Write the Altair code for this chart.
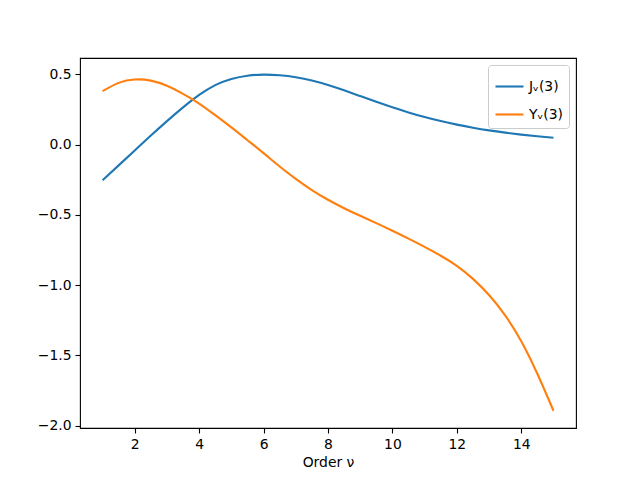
import altair as alt
import pandas as pd

nu = [1, 1.5, 2, 2.5, 3, 3.5, 4, 4.5, 5, 5.5, 6, 6.5, 7, 7.5, 8, 8.5, 9, 9.5,
      10, 10.5, 11, 11.5, 12, 12.5, 13, 13.5, 14, 14.5, 15]
j_vals = [-0.253, -0.147, -0.041, 0.065, 0.168, 0.266, 0.354, 0.424, 0.468, 0.491,
          0.499, 0.494, 0.48, 0.457, 0.425, 0.387, 0.346, 0.305, 0.266, 0.23,
          0.197, 0.168, 0.143, 0.121, 0.102, 0.086, 0.072, 0.06, 0.049]
y_vals = [0.381, 0.44, 0.464, 0.456, 0.419, 0.362, 0.293, 0.21, 0.123, 0.032,
          -0.06, -0.155, -0.243, -0.323, -0.392, -0.452, -0.506, -0.558, -0.612,
          -0.668, -0.727, -0.79, -0.862, -0.955, -1.07, -1.215, -1.398, -1.63, -1.893]
series_names = ["Jᵥ(3)", "Yᵥ(3)"]
colors = ["#1f77b4", "#ff7f0e"]
x_ticks = [2, 4, 6, 8, 10, 12, 14]
y_ticks = [-2.0, -1.5, -1.0, -0.5, 0.0, 0.5]

df = pd.concat([
    pd.DataFrame({"nu": nu, "value": j_vals, "series": series_names[0], "order": range(len(nu))}),
    pd.DataFrame({"nu": nu, "value": y_vals, "series": series_names[1], "order": range(len(nu))}),
])

FONT = "DejaVu Sans"

chart = alt.Chart(df).mark_line(strokeWidth=2.1, interpolate="natural").encode(
    x=alt.X("nu:Q", title="Order ν",
            scale=alt.Scale(domain=[0.3, 15.7], nice=False, zero=False),
            axis=alt.Axis(values=x_ticks, format="d", grid=False, domain=False,
                          tickSize=5, tickWidth=1.1, tickColor="black",
                          labelPadding=4, titlePadding=5, labelFlush=False)),
    y=alt.Y("value:Q", title=None,
            scale=alt.Scale(domain=[-2.016, 0.617], nice=False, zero=False),
            axis=alt.Axis(values=y_ticks, format=".1f", grid=False, domain=False,
                          tickSize=5, tickWidth=1.1, tickColor="black",
                          labelPadding=4, labelFlush=False)),
    color=alt.Color("series:N", title=None,
                    scale=alt.Scale(domain=series_names, range=colors),
                    legend=alt.Legend(orient="top-right", offset=7,
                                      symbolType="stroke", symbolSize=784,
                                      symbolStrokeWidth=2.1,
                                      labelFontSize=13.9, labelFont=FONT,
                                      labelColor="black",
                                      strokeColor="#cccccc", fillColor="white",
                                      cornerRadius=3, padding=6, rowPadding=5)),
    order="order:Q",
).properties(
    width=496, height=370,
    autosize=alt.AutoSizeParams(type="none"),
    padding={"left": 72, "top": 50, "right": 56, "bottom": 52},
).configure_view(
    stroke="black", strokeWidth=1.1
).configure_axis(
    labelFont=FONT, titleFont=FONT, labelFontSize=13.9, titleFontSize=13.9,
    labelColor="black", titleColor="black", titleFontWeight="normal"
)

chart.save("out.html", embed_options={"renderer": "svg", "actions": False})
